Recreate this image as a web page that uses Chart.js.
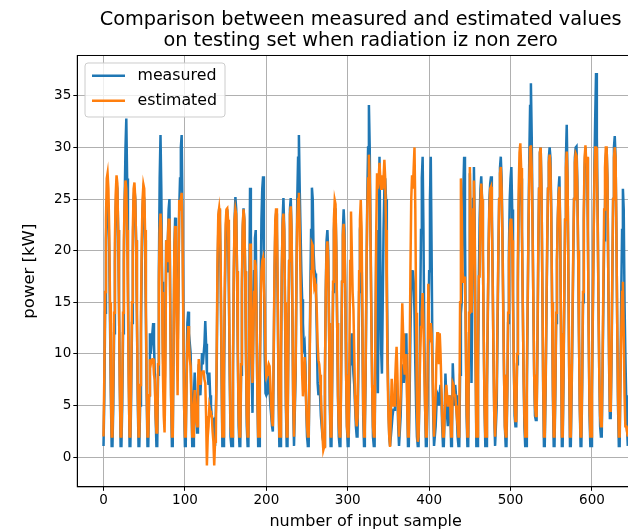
<!DOCTYPE html>
<html><head><meta charset="utf-8">
<script src="https://cdn.jsdelivr.net/npm/chart.js@4.4.0/dist/chart.umd.min.js"></script>
<style>
html,body{margin:0;padding:0;background:#fff;overflow:hidden;width:628px;height:532px;}
#wrap{position:absolute;left:0;top:0;width:680px;height:532px;}
</style></head><body>
<div id="wrap"><canvas id="c" width="680" height="532"></canvas></div>
<script>
const titleLines = ['Comparison between measured and estimated values', 'on testing set when radiation iz non zero'];
const xLabel = 'number of input sample';
const yLabel = 'power [kW]';
const seriesNames = ['measured', 'estimated'];
const xTicks = [0, 100, 200, 300, 400, 500, 600];
const yTicks = [0, 5, 10, 15, 20, 25, 30, 35];

const measured = [
1.1,6,14,21,24.5,25,24,20,13,6,1.1,
1.1,5,12,19,24,26.5,26,22,15,7,1.1,
1.1,5,12,19,25,30,32.8,27,18,8,1.1,
1.1,6,13,20,25,26,25,21,14,6,1.1,
1.1,5,12,19,24,25.5,25,21,14,6,1.1,
1.1,6,12,10,11,12,13,11,8,4,1.1,
1.1,8,18,27,31.2,26,17,10,7,6,
12,21,18,21,24,25,15,6,1.1,
1.1,10,20,23.2,19,14,10,16,24,27,30,31.2,24,14,5,1.1,
1.1,8,13,14.1,12,11,10.1,6,1.1,
1.1,6,8.2,6,4,2.4,5,9,7,
6,8,10.1,9,10,11,13.2,11,8.2,8,
7,8.2,6,4.9,4,3.5,3.6,3,1.1,
1.1,8,17,22,24,23,17,8,1.1,
1.1,7,15,21,23.5,24,22,16,8,2,1.1,
1.1,8,17,23,25.2,24,18,10,3,1.1,
1.1,8,16,22,24.1,23,18,10,3,1.1,
1.1,15,26.1,22,8,4.3,12,18,21.2,22,14,6,1.1,
1.1,8,16,23,26,27.2,20,10,6.2,6,6.2,7,8,6.5,5,4,3,
2.5,9,17,22,23.6,22,15,6,1.1,
1.1,9,18,23,25.1,22,14,5,1.1,
1.1,10,19,24,25.1,22,14,5,1.1,
1.1,8,17,25,29,31.2,26,22,18,15.3,13,10.7,11,9,5,2,1.1,
1.1,8,16,22,26.1,25,20,18.2,17.8,16,12,7.2,6,7,6,4,3,2,1.5,
1.1,8,16,21,22,20,13,5,1.1,
1.1,8,16,22,24,24,20,13,6,2,1.1,
1.1,9,17,22,24,22,16,8,3,1.1,
1.1,5,9,11,12,10,8.1,7,5,3,2,
2,8,16,22,23,20,12,4,1.1,
2.5,8,17,25,30,34.1,30,22,14,7,2,1.1,
1.1,10,20,22,6.2,15,29.1,20,10.4,8.1,15,22,26,27,25,18,10,5,2,1.1,
1.1,3,4,4.6,4.6,5,6,8,6,3,1.1,
1.1,4,7,9,8,7.2,8,10,12,6,1.1,
1.1,6,12,16,18,18.1,17,14,9,5,2,1.1,
1.1,6,14,22,27,29.1,22,12,5,1.1,
1.1,5,12,18,25,29.1,20,10,4,1.1,
1.1,3,5,6.2,6,5,6.2,7,6,3,1.1,
1.1,4,8.1,6,4,3,4,6,5,1.1,
2,9.1,7,5,7,6,4,2,1.1,
1.1,8,13.9,15,20,26,29.1,22,12,4,1.1,
1.1,12,27.5,20,7.2,15,25,28.1,22,10,1.1,
1.1,8,17,23,26,27.2,25,20,12,5,1.1,
1.1,6,13,20,25,26.5,27.2,24,18,10,4,1.1,
1.1,5,12,19,25,28,29.1,27,22,15,8,3,1.1,
1.1,6,13,20,25,27,28.1,24,16,9,4,3,
3,9,17,24,27,28.8,27,22,15,8,3,1.1,
1.1,6,14,22,29,34,36.2,31,23,15,8,4,3.6,
3.6,10,19,26,29.5,30,26,17,7,1.1,
1.1,6,13,20,26,29,30,29,24,15,6,1.1,
1.1,6,13,19,23,26,27.2,22,12,1.1,
1.1,7,15,23,29,32.2,27,18,8,1.1,
1.1,6,12,19,25,29,30,30.1,27,20,12,5,1.1,
1.1,7,15,23,28,30,28,29,22,12,4,1.1,
1.1,6,13,21,28,33,37.2,31,24,15,8,3,2,
2,8,15,21,24,29,30,27,18,9,3.8,
3.8,9,17,25,30,31.1,29,22,13,5,1.1,
1.1,8,16,22,26,24,15,10,6,3,1.1
];

const estimated = [
2,8,16,23,27,27.5,26,22,15,7,2,
2,7,14,21,25.5,27.3,26.5,22,15,7,2,
2,7,14,21,25,26.8,26,22,15,7,2,
2,8,15,22,26,26.6,25,21,14,7,2,
2,7,14,21,25,26.4,26,22,15,7,2,
2,6,9.5,9,9.4,9.5,9.5,8,7.5,4,2.4,
2.4,9,17,22,23.6,22,16,8,4,2.4,
8,21,19,21,23,23,14,6,2,
2,11,20,22.4,18,12,6,15,24.9,24,25,25.6,22,13,5,2,
2,7,11,12.7,11,9.5,8.8,5,2,
2,5,6.5,5,3.5,3,7,9.5,8.5,
7,8,8.2,8.3,8.3,7.5,7.2,4,-0.8,2,
3,4.9,4.5,4,4,2.5,1.5,-0.8,1.5,
2,10,19,23.5,24.1,23,18,9,2,
2,9,17,22.5,24,24.1,23,17,9,3,2,
2,9,18,23,24,23.5,18,10,4,2,
2,9,17,22.5,24,23,18,10,4,2,
2,12,20.7,18,10,7.2,12,16,19.1,18.5,13,6,2,
2,8,14,18,19,19.3,17,14.6,10,7.8,8,8.5,9,8.8,7,5,3.5,
3,10,18,23,24.1,23,16,7,2,
2,10,18,22.5,23.6,22,15,6,2,
2,11,19,23.5,24.3,22,15,6,2,
2,9,18,23,25,25.6,22,17,12,8,5.9,7,9.7,8,5,3,2,
2,8,14,18,20.7,20.5,18,16.5,16.8,16,14,11,9.4,9,8,6,4,2,0.7,
1,8,16,20,20.9,19,13,6,2,
2,9,17,23,24.9,24.5,20,13,6,3,2,
2,9,17,21.5,22.6,21,16,8,3,2,
2,10,19,23.8,20,16,14.3,10,6,3.8,3,
3.8,10,18,23,24.9,22,14,5,2,
3,9,18,24,27,29.3,27,21,13,7,3,2,
2,12,22,27.5,26,27,28.5,27,26,27.3,26,27,28.8,27,22,15,8,4,2,1,
1,7.6,6,5,5,7,9,10.7,8,4,2,
2,6,11,14.9,12,9,8,9,10,5,2,
2,9,18,25,27.3,26,28,30,24,14,5,1.5,
2,6,10,12.6,14,15.9,13,9,5,2,
2,8,16.8,12,11.7,13,12,9,5,2,
2,6,10,12,12,9,12,10,7,4,2,
2,4,6,7,6,5,5,6,5,2,
3,7.2,7,6,6,5,4,3,2,
2,15,27,24,18,17,17,17.5,12,5,2,
2,14,28.1,22,14,18,24,26.8,21,10,2,
2,10,17.5,17.5,24,26.5,25,20,12,5,2,
2,7,14,20,24,26,26.2,23,17,10,4,2,
2,7,14,20,25,27.5,28.1,26,21,14,8,3,2,
2,7,14,19,22,23,23,21,15,9,5,3.5,
3.5,10,19,26,29.5,30.4,28,22,15,8,4,2,
2,8,15,22,27,30,30.2,28,22,15,8,5,4,
4,11,20,26,29.5,30,26,17,8,2,
2,7,14,21,26,28.5,29.3,28,23,15,7,2,
2,7,14,19,23,25.5,26.2,22,12,2,
2,8,16,23,28,29.6,27,18,9,2,
2,7,13,20,25,28.5,29.4,29.2,26,20,12,5,2,
2,8,16,24,29,30.2,28.5,29.1,22,12,5,2,
2,7,14,21,27,30,30,28,23,15,8,4,3,
3,9,17,24,28,30,30,27,18,10,4.5,
4.5,10,18,25,29,30,29,22,13,6,2,
2,8,12,16,17,12,6,3,3,2.5,2
];

const FONT = 'DejaVu Sans';
const toPoints = arr => arr.map((v, i) => ({x: i, y: v}));

const titleShift = {
  id: 'titleShift',
  afterLayout(chart) {
    const t = chart.titleBlock;
    if (t) { t.left -= 5; t.right -= 5; }
  }
};

const framePlugin = {
  id: 'frame',
  afterDatasetsDraw(chart) {
    const {ctx, chartArea: a} = chart;
    ctx.save();
    ctx.strokeStyle = '#000';
    ctx.lineWidth = 1;
    ctx.strokeRect(a.left, a.top, a.right - a.left, a.bottom - a.top);
    ctx.restore();
  }
};

const legendPlugin = {
  id: 'innerLegend',
  afterDraw(chart) {
    const {ctx, chartArea: a} = chart;
    const colors = chart.data.datasets.map(d => d.borderColor);
    const bx = a.left + 7.2, by = a.top + 7, bw = 140, bh = 54;
    ctx.save();
    ctx.beginPath();
    ctx.roundRect(bx + 0.5, by + 0.5, bw, bh, 3);
    ctx.fillStyle = 'rgba(255,255,255,0.8)';
    ctx.fill();
    ctx.strokeStyle = '#cccccc';
    ctx.lineWidth = 1;
    ctx.stroke();
    ctx.font = '15.8px "' + FONT + '"';
    ctx.textBaseline = 'middle';
    ctx.fillStyle = '#000';
    seriesNames.forEach((name, i) => {
      const yy = by + 13.2 + i * 25;
      ctx.strokeStyle = colors[i];
      ctx.lineWidth = 2.5;
      ctx.beginPath();
      ctx.moveTo(bx + 7.5, yy);
      ctx.lineTo(bx + 40.5, yy);
      ctx.stroke();
      ctx.fillText(name, bx + 53, yy);
    });
    ctx.restore();
  }
};

new Chart(document.getElementById('c'), {
  type: 'line',
  data: {
    datasets: [
      {label: seriesNames[0], data: toPoints(measured), borderColor: '#1f77b4', borderWidth: 2.5, pointRadius: 0, tension: 0, fill: false, order: 2},
      {label: seriesNames[1], data: toPoints(estimated), borderColor: '#ff7f0e', borderWidth: 2.5, pointRadius: 0, tension: 0, fill: false, order: 1}
    ]
  },
  options: {
    responsive: false,
    animation: false,
    devicePixelRatio: 1,
    layout: {padding: {left: 0, right: 26, top: 0, bottom: 0}},
    plugins: {
      legend: {display: false},
      tooltip: {enabled: false},
      title: {
        display: true, text: titleLines, fullSize: false, color: '#000',
        font: {family: FONT, size: 19.3, weight: 'normal', lineHeight: 1.08},
        padding: {top: 10, bottom: 3.8}
      }
    },
    scales: {
      x: {
        type: 'linear', min: -32.2, max: 676.2, position: 'bottom',
        afterBuildTicks: s => { s.ticks = xTicks.map(v => ({value: v})); },
        afterFit: s => { s.height = 45.2; },
        ticks: {color: '#000', font: {family: FONT, size: 13.5}, padding: 2, maxRotation: 0, autoSkip: false},
        grid: {color: '#b0b0b0', lineWidth: 1, tickColor: '#000', tickLength: 4, tickWidth: 1},
        border: {display: true, color: '#000', width: 1},
        title: {display: true, text: xLabel, color: '#000', font: {family: FONT, size: 16, lineHeight: 1.2}, padding: {top: 0, bottom: 1}}
      },
      y: {
        type: 'linear', min: -2.86, max: 38.9,
        afterBuildTicks: s => { s.ticks = yTicks.map(v => ({value: v})); },
        afterFit: s => { s.width = 77.3; },
        ticks: {color: '#000', font: {family: FONT, size: 13.5}, padding: 2},
        grid: {color: '#b0b0b0', lineWidth: 1, tickColor: '#000', tickLength: 4, tickWidth: 1},
        border: {display: true, color: '#000', width: 1},
        title: {display: true, text: yLabel, color: '#000', font: {family: FONT, size: 16.5, lineHeight: 1.2}, padding: {top: 20, bottom: 0}}
      }
    }
  },
  plugins: [titleShift, framePlugin, legendPlugin]
});
</script>
</body></html>
